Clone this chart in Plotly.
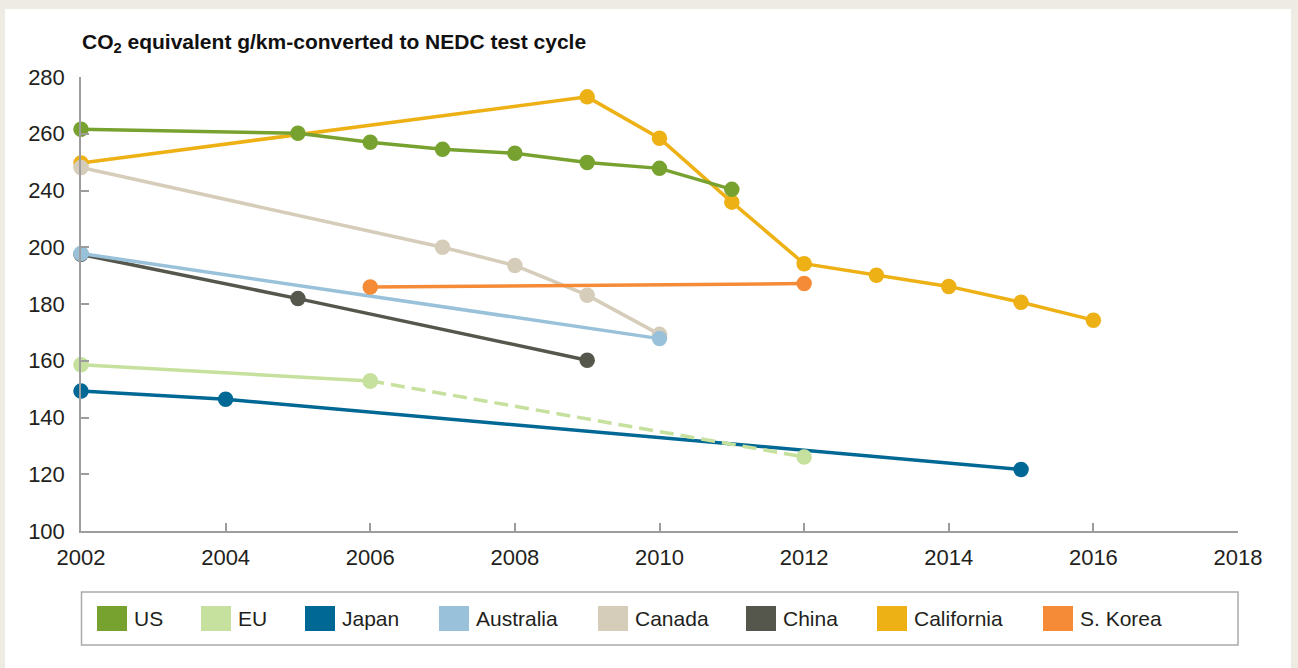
import numpy as np
import plotly.graph_objects as go

# ---------------- data (values as read against the printed axis labels) ----------------
tick_labels = [100, 120, 140, 160, 180, 200, 240, 260, 280]   # printed y labels (note: 220 absent)
x_ticks = [2002, 2004, 2006, 2008, 2010, 2012, 2014, 2016, 2018]

us_years = [2002, 2005, 2006, 2007, 2008, 2009, 2010, 2011]
us_vals = [261.6, 260.2, 257.0, 254.5, 253.1, 249.9, 247.8, 240.4]

eu_years = [2002, 2006]
eu_vals = [158.6, 152.9]
eu_target_years = [2006, 2012]
eu_target_vals = [152.9, 126.1]

japan_years = [2002, 2004, 2015]
japan_vals = [149.3, 146.4, 121.7]

australia_years = [2002, 2010]
australia_vals = [197.8, 167.8]

canada_years = [2002, 2007, 2008, 2009, 2010]
canada_vals = [248.1, 200.0, 193.6, 183.1, 169.3]

china_years = [2002, 2005, 2009]
china_vals = [197.5, 181.9, 160.2]

california_years = [2002, 2009, 2010, 2011, 2012, 2013, 2014, 2015, 2016]
california_vals = [249.7, 273.0, 258.4, 231.8, 194.2, 190.1, 186.2, 180.6, 174.3]

korea_years = [2006, 2012]
korea_vals = [186.0, 187.2]

legend_names = ["US", "EU", "Japan", "Australia", "Canada", "China", "California", "S. Korea"]
colors = {
    "US": "#78a22f",
    "EU": "#c6e09d",
    "Japan": "#006894",
    "Australia": "#99c2da",
    "Canada": "#d5ccb9",
    "China": "#55564c",
    "California": "#eeb115",
    "S. Korea": "#f58b37",
}

# the printed axis has equally spaced ticks whose labels skip 220
tick_pos = [100, 120, 140, 160, 180, 200, 220, 240, 260]


def to_axis(vals):
    return np.interp(vals, tick_labels, tick_pos)


# ---------------- figure ----------------
W, H = 1298, 668
ML, MR, MT, MB = 81, 60, 77, 137
PW, PH = W - ML - MR, H - MT - MB


def px(x):
    return (x - ML) / PW


def py(y):
    return (H - MB - y) / PH


fig = go.Figure()

LW = 3.5
MS = 15.5


def add_series(name, years, vals, dash="solid"):
    fig.add_trace(go.Scatter(
        x=years, y=to_axis(vals), mode="lines+markers", name=name,
        line=dict(color=colors[name], width=LW, dash=dash),
        marker=dict(color=colors[name], size=MS),
        cliponaxis=False, showlegend=False,
    ))


add_series("California", california_years, california_vals)
add_series("US", us_years, us_vals)
add_series("Canada", canada_years, canada_vals)
add_series("China", china_years, china_vals)
add_series("Australia", australia_years, australia_vals)
add_series("Japan", japan_years, japan_vals)
fig.add_trace(go.Scatter(
    x=eu_target_years, y=to_axis(eu_target_vals), mode="lines+markers", name="EU target",
    line=dict(color=colors["EU"], width=LW, dash="14px,7px"),
    marker=dict(color=colors["EU"], size=MS), cliponaxis=False, showlegend=False,
))
add_series("EU", eu_years, eu_vals)
add_series("S. Korea", korea_years, korea_vals)

FONT = "Liberation Sans, Arial, sans-serif"
TXT = "#231f20"
AX = "#9d9d9d"

shapes = [
    # white panel
    dict(type="rect", xref="paper", yref="paper", x0=px(5), x1=px(1291), y0=py(700), y1=py(9),
         fillcolor="white", line=dict(width=0), layer="below"),
    # legend box
    dict(type="rect", xref="paper", yref="paper", x0=px(81.5), x1=px(1238), y0=py(645), y1=py(592),
         fillcolor="rgba(0,0,0,0)", line=dict(color="#aaaaaa", width=1.5)),
]
annotations = [
    dict(xref="paper", yref="paper", x=px(80), y=py(43), xanchor="left", yanchor="middle",
         text="<b>CO<sub>2</sub> equivalent g/km-converted to NEDC test cycle</b>",
         showarrow=False, font=dict(family=FONT, size=21, color="#111111")),
]

legend_sw_x = [97, 201, 305, 439, 598, 746, 877, 1043]
SW, SH = 30, 25
LY = 618.5
for name, x0 in zip(legend_names, legend_sw_x):
    shapes.append(dict(type="rect", xref="paper", yref="paper",
                       x0=px(x0), x1=px(x0 + SW), y0=py(LY + SH / 2), y1=py(LY - SH / 2),
                       fillcolor=colors[name], line=dict(width=0)))
    annotations.append(dict(xref="paper", yref="paper", x=px(x0 + SW + 5), y=py(LY),
                            xanchor="left", yanchor="middle", text=name, showarrow=False,
                            font=dict(family=FONT, size=21, color=TXT)))

fig.update_layout(
    width=W, height=H,
    margin=dict(l=ML, r=MR, t=MT, b=MB, pad=0),
    paper_bgcolor="#eeebe4",
    plot_bgcolor="rgba(0,0,0,0)",
    shapes=shapes,
    annotations=annotations,
    showlegend=False,
    xaxis=dict(
        range=[2002, 2018], tickvals=x_ticks, ticktext=[str(v) for v in x_ticks],
        showgrid=False, zeroline=False, showline=True, linecolor=AX, linewidth=1.5,
        ticks="inside", ticklen=8, tickcolor=AX, tickwidth=1.5,
        tickfont=dict(family=FONT, size=22, color=TXT), ticklabelstandoff=6,
        fixedrange=True,
    ),
    yaxis=dict(
        range=[100, 260], tickvals=tick_pos, ticktext=[str(v) for v in tick_labels],
        showgrid=False, zeroline=False, showline=True, linecolor=AX, linewidth=1.5,
        ticks="inside", ticklen=8, tickcolor=AX, tickwidth=1.5,
        tickfont=dict(family=FONT, size=22, color=TXT), ticklabelstandoff=10,
        fixedrange=True,
    ),
)

fig.write_html(
    "out.html",
    config={"displayModeBar": False},
    post_script="document.body.style.margin='0';document.body.style.overflow='hidden';",
)
